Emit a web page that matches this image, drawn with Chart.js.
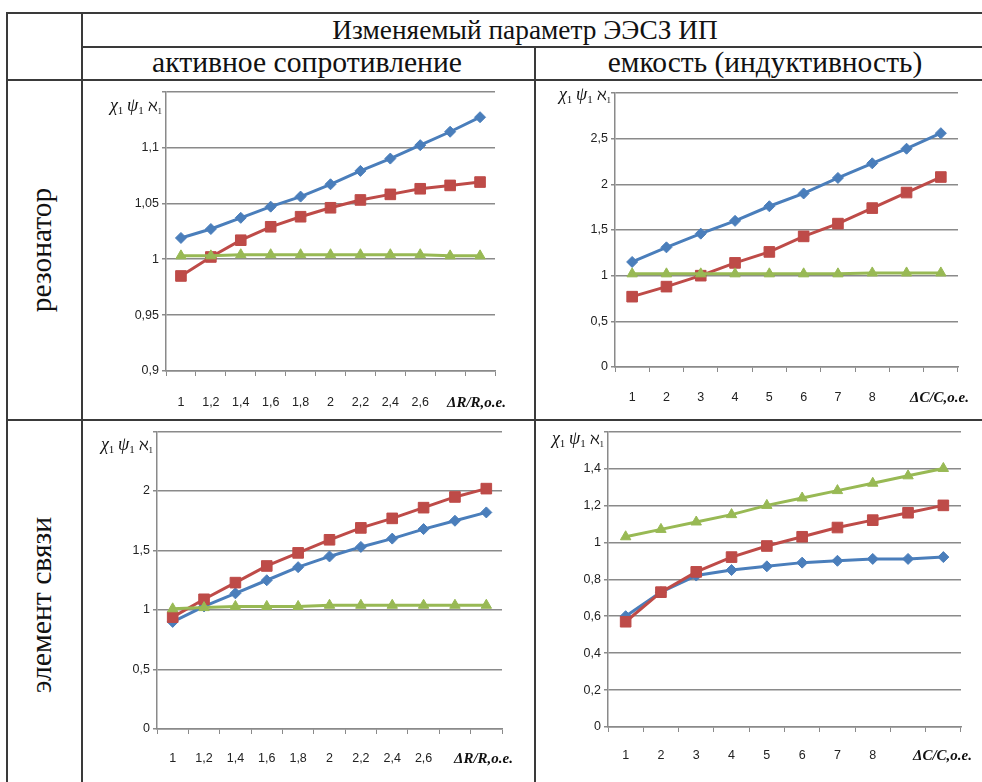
<!DOCTYPE html>
<html>
<head>
<meta charset="utf-8">
<script src="https://cdn.jsdelivr.net/npm/chart.js@4.4.1/dist/chart.umd.min.js"></script>
<style>
  body { margin: 0; background: #fff; }
  #page { position: relative; width: 982px; height: 782px; overflow: hidden; color: #111; }
  .ln { position: absolute; background: #3a3a3a; }
  .hd, .rot { position: absolute; font-family: "Liberation Serif", "Times New Roman", serif; white-space: nowrap; line-height: 1; }
  .hd { transform: translateX(-50%); }
  .rot { font-size: 29px; transform: translate(-50%, -50%) rotate(-90deg); }
  .box { position: absolute; }
</style>
</head>
<body>
<div id="page">
  <!-- table lines -->
  <div class="ln" style="left:6px;top:12px;width:976px;height:2px"></div>
  <div class="ln" style="left:81px;top:46px;width:901px;height:2px"></div>
  <div class="ln" style="left:6px;top:79px;width:976px;height:2px"></div>
  <div class="ln" style="left:6px;top:419px;width:976px;height:2px"></div>
  <div class="ln" style="left:6px;top:12px;width:2px;height:770px"></div>
  <div class="ln" style="left:81px;top:12px;width:2px;height:770px"></div>
  <div class="ln" style="left:534px;top:46px;width:2px;height:736px"></div>

  <div class="hd" data-w="385" style="left:525px;top:17px;font-size:27px">Изменяемый параметр ЭЭСЗ ИП</div>
  <div class="hd" data-w="310" style="left:307px;top:49px;font-size:28.5px">активное сопротивление</div>
  <div class="hd" data-w="314" style="left:765px;top:49px;font-size:28.5px">емкость (индуктивность)</div>
  <div class="rot" data-w="124" style="left:41px;top:250px">резонатор</div>
  <div class="rot" data-w="176" style="left:41px;top:605px">элемент связи</div>

  <div class="box" style="left:83px;top:81px;width:451px;height:338px"><canvas id="c1"></canvas></div>
  <div class="box" style="left:536px;top:81px;width:446px;height:338px"><canvas id="c2"></canvas></div>
  <div class="box" style="left:83px;top:421px;width:451px;height:361px"><canvas id="c3"></canvas></div>
  <div class="box" style="left:536px;top:421px;width:446px;height:361px"><canvas id="c4"></canvas></div>
</div>
<script>
// x categories
var labelsR = ['1', '1,2', '1,4', '1,6', '1,8', '2', '2,2', '2,4', '2,6', '', ''];
var labelsC = ['1', '2', '3', '4', '5', '6', '7', '8', '', ''];

// резонатор / активное сопротивление
var resR_blue  = [1.019, 1.027, 1.037, 1.047, 1.056, 1.067, 1.079, 1.090, 1.102, 1.114, 1.127];
var resR_red   = [0.985, 1.002, 1.017, 1.029, 1.038, 1.046, 1.053, 1.058, 1.063, 1.066, 1.069];
var resR_green = [1.003, 1.003, 1.004, 1.004, 1.004, 1.004, 1.004, 1.004, 1.004, 1.003, 1.003];

// резонатор / емкость
var resC_blue  = [1.15, 1.31, 1.46, 1.60, 1.76, 1.90, 2.07, 2.23, 2.39, 2.56];
var resC_red   = [0.77, 0.88, 1.00, 1.14, 1.26, 1.43, 1.57, 1.74, 1.91, 2.08];
var resC_green = [1.02, 1.02, 1.02, 1.02, 1.02, 1.02, 1.02, 1.03, 1.03, 1.03];

// элемент связи / активное сопротивление
var linkR_blue  = [0.90, 1.03, 1.14, 1.25, 1.36, 1.45, 1.53, 1.60, 1.68, 1.75, 1.82];
var linkR_red   = [0.94, 1.09, 1.23, 1.37, 1.48, 1.59, 1.69, 1.77, 1.86, 1.95, 2.02];
var linkR_green = [1.01, 1.02, 1.03, 1.03, 1.03, 1.04, 1.04, 1.04, 1.04, 1.04, 1.04];

// элемент связи / емкость
var linkC_blue  = [0.60, 0.73, 0.82, 0.85, 0.87, 0.89, 0.90, 0.91, 0.91, 0.92];
var linkC_red   = [0.57, 0.73, 0.84, 0.92, 0.98, 1.03, 1.08, 1.12, 1.16, 1.20];
var linkC_green = [1.03, 1.07, 1.11, 1.15, 1.20, 1.24, 1.28, 1.32, 1.36, 1.40];

var BLUE = '#4a7ebb', RED = '#be4b48', GREEN = '#98b954';
var GRID = '#8a8a8a';
var TICKFONT = { family: '"Liberation Sans", Arial, sans-serif', size: 12.5 };

// fit the table captions to the widths seen in the picture
var caps = document.querySelectorAll('[data-w]');
for (var k = 0; k < caps.length; k++) {
    var el = caps[k];
    var s = parseFloat(el.getAttribute('data-w')) / el.offsetWidth;
    if (el.className == 'rot')
        el.style.transform = 'translate(-50%, -50%) rotate(-90deg) scaleX(' + s + ')';
    else
        el.style.transform = 'translateX(-50%) scaleX(' + s + ')';
}

function fmt(v) {
    return String(Math.round(v * 100) / 100).replace('.', ',');
}

// draws the symbol caption above the y axis and the unit caption at the x axis end
var captions = {
    id: 'captions',
    afterDraw: function (chart, args, o) {
        var ctx = chart.ctx, a = chart.chartArea;
        ctx.save();
        ctx.fillStyle = '#111';
        ctx.textBaseline = 'alphabetic';
        ctx.font = 'bold italic 15px "Liberation Serif", serif';
        ctx.textAlign = 'right';
        ctx.fillText(o.unit, a.right + 11, a.bottom + o.unitDy);

        var parts = [
            ['χ', 'italic 18px "Liberation Serif", "DejaVu Serif", serif', 0],
            ['1', '11px "Liberation Serif", serif', 3],
            [' ', '15px "Liberation Serif", serif', 0],
            ['ψ', 'italic 18px "Liberation Serif", "DejaVu Serif", serif', 0],
            ['1', '11px "Liberation Serif", serif', 3],
            [' ', '15px "Liberation Serif", serif', 0],
            ['ℵ', '16px "DejaVu Serif", serif', 0],
            ['1', '9px "Liberation Serif", serif', 3]
        ];
        var w = 0, i;
        for (i = 0; i < parts.length; i++) {
            ctx.font = parts[i][1];
            w += ctx.measureText(parts[i][0]).width;
        }
        var x = a.left - 4 - w, y = a.top + o.symDy;
        ctx.textAlign = 'left';
        for (i = 0; i < parts.length; i++) {
            ctx.font = parts[i][1];
            ctx.fillText(parts[i][0], x, y + parts[i][2]);
            x += ctx.measureText(parts[i][0]).width;
        }
        ctx.restore();
    }
};

function makeChart(id, labels, blue, red, green, yMin, yMax, yStep, lay, unit) {
    var ctx = document.getElementById(id).getContext('2d');
    return new Chart(ctx, {
        type: 'line',
        data: {
            labels: labels,
            datasets: [{
                data: green,
                borderColor: GREEN, backgroundColor: GREEN,
                borderWidth: 3, pointStyle: 'triangle', pointRadius: 6, pointBorderWidth: 1
            }, {
                data: red,
                borderColor: RED, backgroundColor: RED,
                borderWidth: 3, pointStyle: 'rect', pointRadius: 7.5, pointBorderWidth: 1
            }, {
                data: blue,
                borderColor: BLUE, backgroundColor: BLUE,
                borderWidth: 3, pointStyle: 'rectRot', pointRadius: 5.5, pointBorderWidth: 1
            }]
        },
        plugins: [captions],
        options: {
            responsive: true,
            maintainAspectRatio: false,
            animation: false,
            events: [],
            layout: { padding: { top: lay.top, right: lay.right, left: 0, bottom: 0 } },
            plugins: {
                legend: { display: false },
                tooltip: { enabled: false },
                captions: { unit: unit, unitDy: lay.unitDy, symDy: lay.symDy }
            },
            scales: {
                x: {
                    offset: true,
                    grid: { offset: true, drawOnChartArea: false, drawTicks: true, tickLength: 5, color: GRID, lineWidth: 1 },
                    border: { color: GRID, width: 1.5 },
                    ticks: { autoSkip: false, maxRotation: 0, padding: lay.xPad, color: '#222', font: TICKFONT },
                    afterFit: function (s) { s.height = lay.xH; }
                },
                y: {
                    min: yMin, max: yMax,
                    grid: { color: GRID, lineWidth: 1.5, tickLength: 4 },
                    border: { color: GRID, width: 1.5 },
                    ticks: {
                        stepSize: yStep, padding: 3, color: '#222', font: TICKFONT,
                        callback: function (v) { return Math.abs(v - yMax) < 1e-9 ? '' : fmt(v); }
                    },
                    afterFit: function (s) { s.width = lay.yW; }
                }
            }
        }
    });
}

makeChart('c1', labelsR, resR_blue, resR_red, resR_green, 0.9, 1.15, 0.05,
    { top: 9, right: 39, xH: 48, yW: 83, xPad: 19, unitDy: 36, symDy: 19 }, 'ΔR/R,o.e.');
makeChart('c2', labelsC, resC_blue, resC_red, resC_green, 0, 3, 0.5,
    { top: 12, right: 24, xH: 52, yW: 79, xPad: 18, unitDy: 35, symDy: 7 }, 'ΔC/C,o.e.');
makeChart('c3', labelsR, linkR_blue, linkR_red, linkR_green, 0, 2.5, 0.5,
    { top: 9, right: 32, xH: 53, yW: 74, xPad: 17, unitDy: 34, symDy: 18 }, 'ΔR/R,o.e.');
makeChart('c4', labelsC, linkC_blue, linkC_red, linkC_green, 0, 1.6, 0.2,
    { top: 10, right: 21, xH: 55, yW: 72, xPad: 16, unitDy: 33, symDy: 12 }, 'ΔC/C,o.e.');
</script>
</body>
</html>
